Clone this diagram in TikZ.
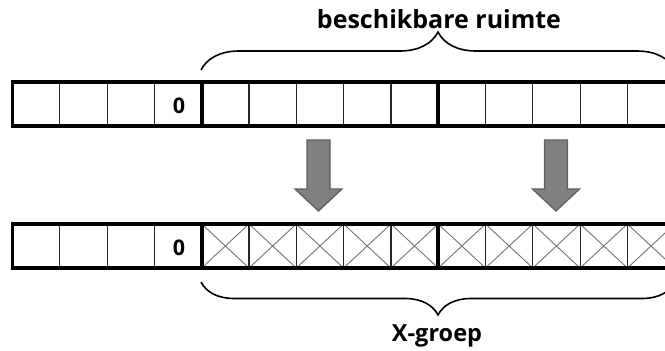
\documentclass[tikz,border=0pt]{standalone}
\usepackage{fontspec}
\setmainfont{Open Sans}
\usetikzlibrary{positioning,decorations.pathreplacing}

\tikzset{
  cel/.style={draw=black!85, line width=1.2pt, minimum width=47.3pt, minimum height=44pt,
    inner sep=0pt, outer sep=0pt, anchor=north west},
  cijfer/.style={font=\bfseries\fontsize{21.5}{21.5}\selectfont, anchor=base, inner sep=0pt},
  rand/.style={line width=3.6pt, line join=miter},
  kruis/.style={draw=black!55, line width=0.9pt},
  accolade/.style={decorate, decoration={brace, amplitude=#1}, line width=1.6pt},
  pijl/.style={fill=black!50, draw=black!62, line width=1.3pt, line join=miter},
  opschrift/.style={font=\bfseries\fontsize{#1}{#1}\selectfont, anchor=base, inner sep=0pt}
}

\begin{document}
\begin{tikzpicture}[x=1pt,y=-1pt]
		\useasboundingbox (0,0) rectangle (665,351);
		\clip (0,0) rectangle (665,351);
		% cellen van beide rijen
		\foreach \k in {0,...,13} {
			\node[cel] (t\k) at ({12.5+47.3*\k},82) {};
			\node[cel] (b\k) at ({12.5+47.3*\k},224) {};
		}
		\node[cijfer] (nul1) at (179,113) {0};
		\node[cijfer] (nul2) at (179,255) {0};
		\foreach \k in {4,...,13}
			\draw[kruis] (b\k.north west) -- (b\k.south east) (b\k.north east) -- (b\k.south west);
		% dikke randen
		\foreach \r in {t,b} {
			\draw[rand] (\r13.north east) -- (\r0.north west) -- (\r0.south west) -- (\r13.south east);
			\draw[rand] (\r4.north west) -- (\r4.south west);
			\draw[rand] (\r9.north west) -- (\r9.south west);
		}
		% pijlen
		\foreach \cx in {318.5,556}
			\draw[pijl] ({\cx-11.5},140) -- ({\cx+11.5},140) -- ({\cx+11.5},189) -- ({\cx+23.5},189)
				-- (\cx,211) -- ({\cx-23.5},189) -- ({\cx-11.5},189) -- cycle;
		% accolades
		\coordinate (al) at (201,70);
		\coordinate (ar) at (675,70);
		\coordinate (bl) at (201,282);
		\coordinate (br) at (675,282);
		\draw[accolade=38pt] (al) -- (ar);
		\draw[accolade=33pt] (br) -- (bl);
		\node[opschrift=25] (ruimte) at (439,28) {beschikbare ruimte};
		\node[opschrift=23.5] (groep) at (437,341.5) {X-groep};
	\end{tikzpicture}
\end{document}
